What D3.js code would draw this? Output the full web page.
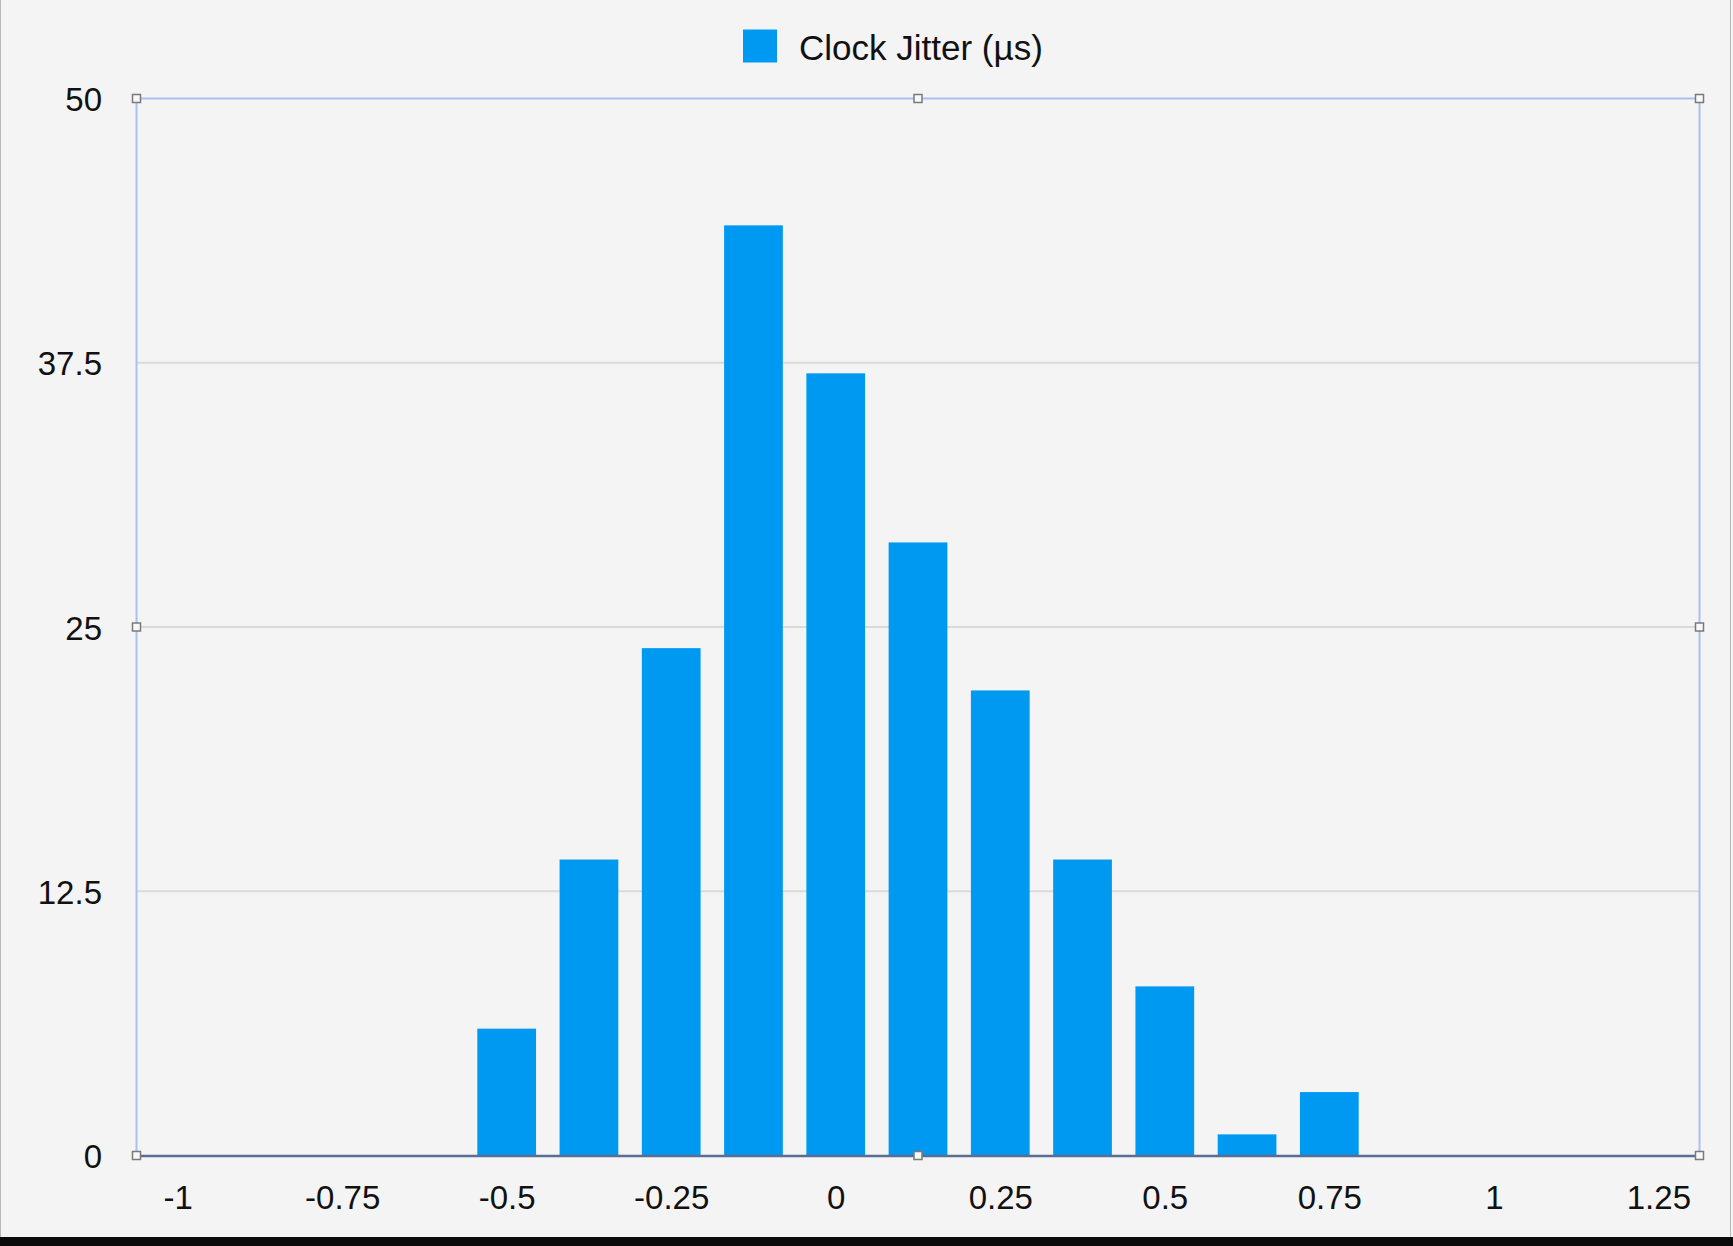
<!DOCTYPE html>
<html>
<head>
    <meta charset="utf-8">
    <title>Clock Jitter</title>
    <style>
        body, html {
            margin: 0;
            padding: 0;
            background: #f4f4f4;
        }
        .axis text {
            font: 33px "Liberation Sans", Arial, sans-serif;
            fill: #111;
        }
        .legend text {
            font: 35px "Liberation Sans", Arial, sans-serif;
            fill: #111;
        }
    </style>
    <script src="https://cdn.jsdelivr.net/npm/d3@7"></script>
</head>
<body>
    <svg width="1733" height="1246"></svg>
<script>
    // bin centres (µs) and counts
    const binCenters = [-0.5, -0.375, -0.25, -0.125, 0, 0.125, 0.25, 0.375, 0.5, 0.625, 0.75];
    const counts = [6, 14, 24, 44, 37, 29, 22, 14, 8, 1, 3];
    const binWidth = 0.125;
    const xTicks = [-1, -0.75, -0.5, -0.25, 0, 0.25, 0.5, 0.75, 1, 1.25];
    const xTickLabels = ["-1", "-0.75", "-0.5", "-0.25", "0", "0.25", "0.5", "0.75", "1", "1.25"];
    const yTicks = [0, 12.5, 25, 37.5, 50];
    const yTickLabels = ["0", "12.5", "25", "37.5", "50"];
    const seriesName = "Clock Jitter (µs)";

    const svg = d3.select('svg');
    const W = +svg.attr('width'), H = +svg.attr('height');
    const margin = { top: 98.5, right: 33.5, bottom: 90.5, left: 136.5 };
    const width = W - margin.left - margin.right;
    const height = H - margin.top - margin.bottom;

    svg.append('rect').attr('width', W).attr('height', H).attr('fill', '#f4f4f4');
    // window edges
    svg.append('line').attr('x1', 0.5).attr('x2', 0.5).attr('y1', 0).attr('y2', H).attr('stroke', '#b8b8b8');
    svg.append('line').attr('x1', 1730.5).attr('x2', 1730.5).attr('y1', 0).attr('y2', H).attr('stroke', '#b8b8b8');
    svg.append('rect').attr('x', 0).attr('y', 1237).attr('width', W).attr('height', H - 1237).attr('fill', '#0b0b0b');

    const x = d3.scaleLinear()
        .domain([xTicks[0] - binWidth / 2, xTicks[xTicks.length - 1] + binWidth / 2])
        .range([0, width]);
    const y = d3.scaleLinear().domain([0, 50]).range([height, 0]);

    const g = svg.append('g').attr('transform', `translate(${margin.left},${margin.top})`);

    // grid lines
    g.selectAll('.grid')
        .data(yTicks.filter(d => d > 0 && d < 50))
        .enter().append('line')
        .attr('x1', 0).attr('x2', width)
        .attr('y1', d => y(d)).attr('y2', d => y(d))
        .attr('stroke', '#dadada').attr('stroke-width', 2);

    // bars
    const barW = x(binWidth * 0.714) - x(0);
    g.selectAll('.bar')
        .data(binCenters)
        .enter().append('rect')
        .attr('class', 'bar')
        .attr('x', (d) => x(d) - barW / 2)
        .attr('y', (d, i) => y(counts[i]))
        .attr('width', barW)
        .attr('height', (d, i) => y(0) - y(counts[i]))
        .attr('fill', '#0099f1');

    // frame
    g.append('line').attr('x1', 0).attr('x2', width).attr('y1', 0).attr('y2', 0)
        .attr('stroke', '#a9c0f0').attr('stroke-width', 2);
    g.append('line').attr('x1', 0).attr('x2', 0).attr('y1', 0).attr('y2', height)
        .attr('stroke', '#a9c0f0').attr('stroke-width', 2);
    g.append('line').attr('x1', width).attr('x2', width).attr('y1', 0).attr('y2', height)
        .attr('stroke', '#a9c0f0').attr('stroke-width', 2);

    // x axis
    const xAxis = g.append('g')
        .attr('class', 'axis')
        .attr('transform', `translate(0,${height})`)
        .call(d3.axisBottom(x).tickValues(xTicks).tickSize(0).tickPadding(0)
            .tickFormat((d, i) => xTickLabels[i]));
    xAxis.select('.domain').attr('stroke', '#5b6d94').attr('stroke-width', 2.5);
    xAxis.selectAll('text').attr('y', 53).attr('dy', null);

    // y axis
    const yAxis = g.append('g')
        .attr('class', 'axis')
        .call(d3.axisLeft(y).tickValues(yTicks).tickSize(0).tickPadding(0)
            .tickFormat((d, i) => yTickLabels[i]));
    yAxis.select('.domain').remove();
    yAxis.selectAll('text').attr('x', -34.5).attr('dy', '12');

    // selection handles
    const handles = [
        [0, 0], [width / 2, 0], [width, 0],
        [0, height / 2], [width, height / 2],
        [0, height], [width / 2, height], [width, height]
    ];
    g.selectAll('.handle')
        .data(handles)
        .enter().append('rect')
        .attr('x', d => d[0] - 4).attr('y', d => d[1] - 4)
        .attr('width', 8).attr('height', 8)
        .attr('fill', '#f8f8f8').attr('stroke', '#7a7a7a').attr('stroke-width', 1.5);

    // legend
    const legend = svg.append('g').attr('class', 'legend');
    legend.append('rect')
        .attr('x', 743).attr('y', 29.5).attr('width', 34).attr('height', 33)
        .attr('fill', '#0099f1');
    legend.append('text')
        .attr('x', 799).attr('y', 60)
        .text(seriesName);
</script>
</body>
</html>
